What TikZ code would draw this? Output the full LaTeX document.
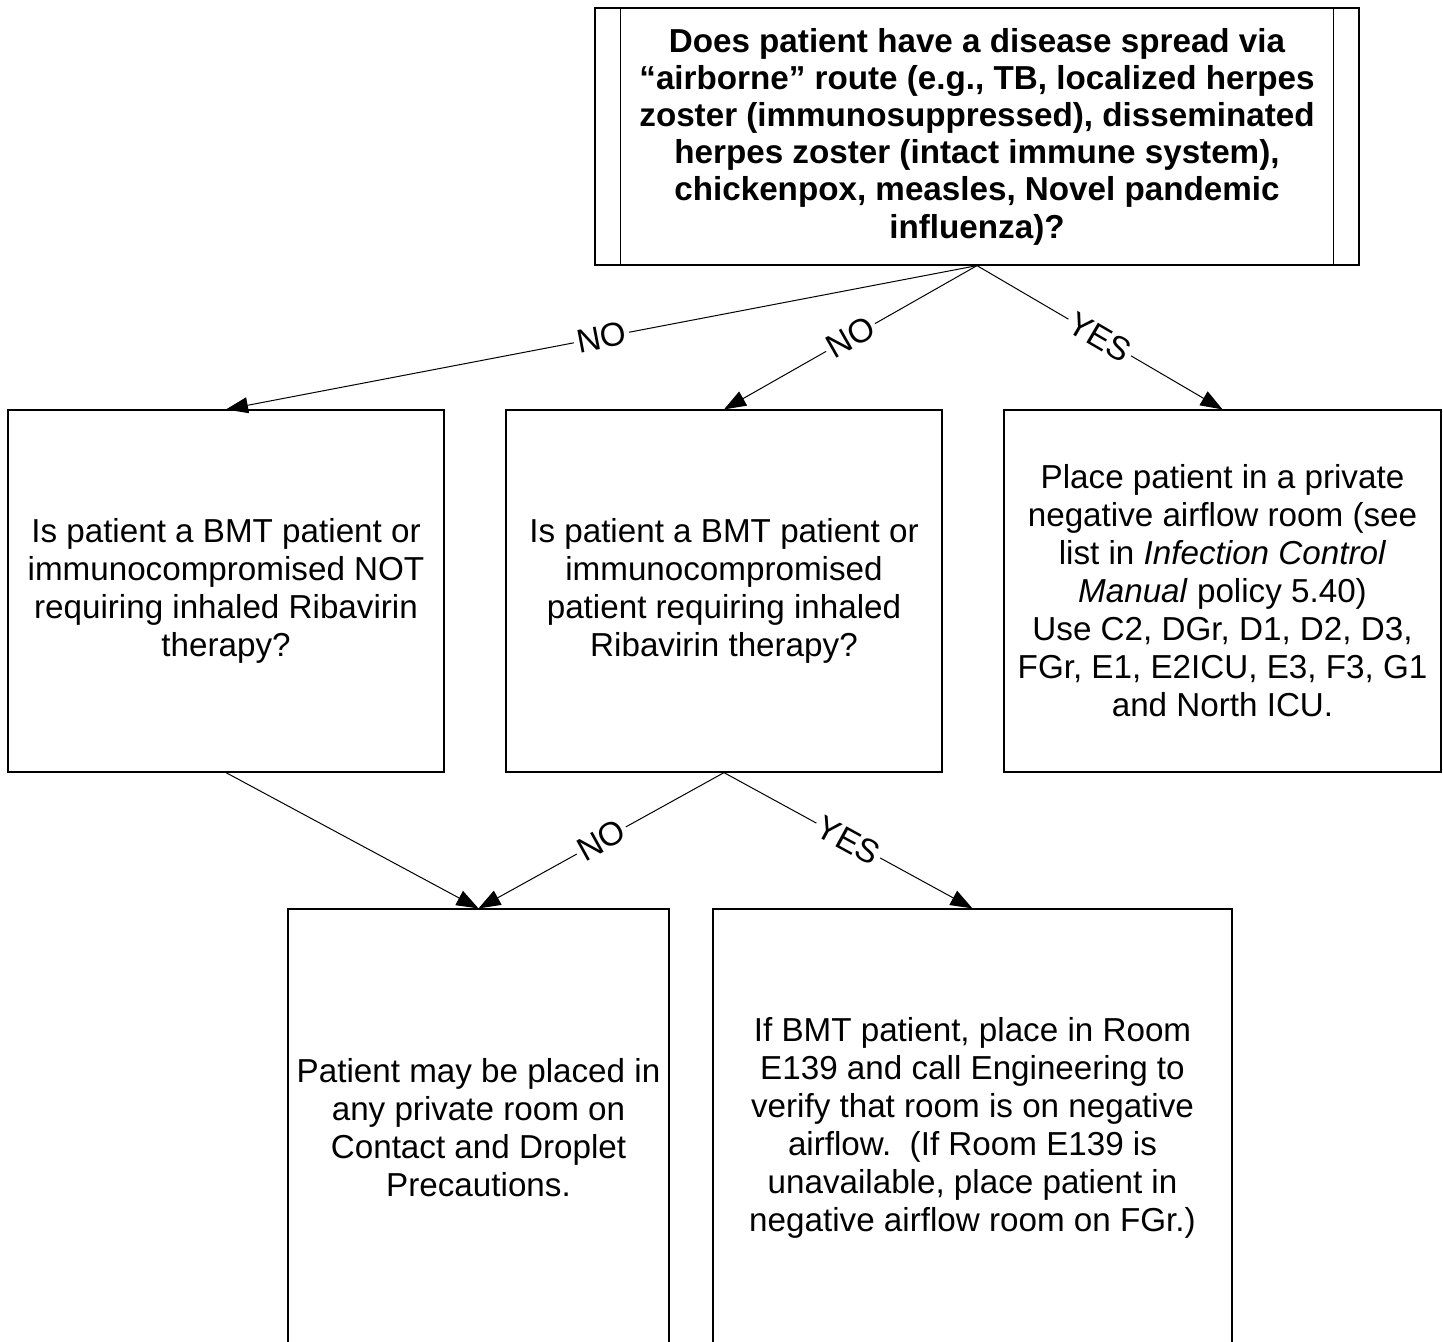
\documentclass[tikz,border=0pt]{standalone}
\usepackage{fontspec}
\setmainfont{Liberation Sans}
\usetikzlibrary{arrows.meta,positioning}
\tikzset{
  mybox/.style={
    rectangle, draw=black, line width=0.6pt,
    align=center, inner sep=0pt,
    font=\fontsize{16.6}{19}\selectfont
  },
  qbox/.style={
    mybox, font=\bfseries\fontsize{16.6}{18.6}\selectfont
  },
  answer/.style={
    midway, sloped, fill=white, inner sep=1.5pt,
    font=\fontsize{16.6}{19}\selectfont
  }
}

\begin{document}
\begin{tikzpicture}[x=0.5pt,y=-0.5pt,
  >={Triangle[length=11pt,width=8pt]}]
\clip (0,0) rectangle (1443,1341);

\node[qbox, minimum width=382pt, minimum height=128.5pt] at (977,136.5)
(question)
{Does patient have a disease spread via\\
 ``airborne'' route (e.g., TB, localized herpes\\
 zoster (immunosuppressed), disseminated\\
 herpes zoster (intact immune system),\\
 chickenpox, measles, Novel pandemic\\
 influenza)?};
\draw[line width=0.6pt] ([xshift=13pt]question.north west) -- ([xshift=13pt]question.south west);
\draw[line width=0.6pt] ([xshift=-13pt]question.north east) -- ([xshift=-13pt]question.south east);

\node[mybox, minimum width=218pt, minimum height=181pt] at (226,591) (notrib)
{Is patient a BMT patient or\\
 immunocompromised NOT\\
 requiring inhaled Ribavirin\\
 therapy?};

\node[mybox, minimum width=218pt, minimum height=181pt] at (724,591) (rib)
{Is patient a BMT patient or\\
 immunocompromised\\
 patient requiring inhaled\\
 Ribavirin therapy?};

\node[mybox, minimum width=218.5pt, minimum height=181pt] at (1222.5,591) (negroom)
{Place patient in a private\\
 negative airflow room (see\\
 list in \textit{Infection Control}\\
 \textit{Manual} policy 5.40)\\
 Use C2, DGr, D1, D2, D3,\\
 FGr, E1, E2ICU, E3, F3, G1\\
 and North ICU.};

\node[mybox, minimum width=190.5pt, minimum height=218.5pt] at (478.5,1127.5) (private)
{Patient may be placed in\\
 any private room on\\
 Contact and Droplet\\
 Precautions.};

\node[mybox, minimum width=259.5pt, minimum height=218.5pt] at (972.5,1127.5) (etroom)
{If BMT patient, place in Room\\
 E139 and call Engineering to\\
 verify that room is on negative\\
 airflow.\ \ (If Room E139 is\\
 unavailable, place patient in\\
 negative airflow room on FGr.)};

% arrows
\draw[->, line width=0.5pt] (question.south) -- node[answer] {NO} (notrib.north);
\draw[->, line width=0.5pt] (question.south) -- node[answer] {NO} (rib.north);
\draw[->, line width=0.5pt] (question.south) -- node[answer] {YES} (negroom.north);

\draw[->, line width=0.5pt] (notrib.south) -- (private.north);
\draw[->, line width=0.5pt] (rib.south) -- node[answer] {NO} (private.north);
\draw[->, line width=0.5pt] (rib.south) -- node[answer] {YES} (etroom.north);
\end{tikzpicture}
\end{document}
